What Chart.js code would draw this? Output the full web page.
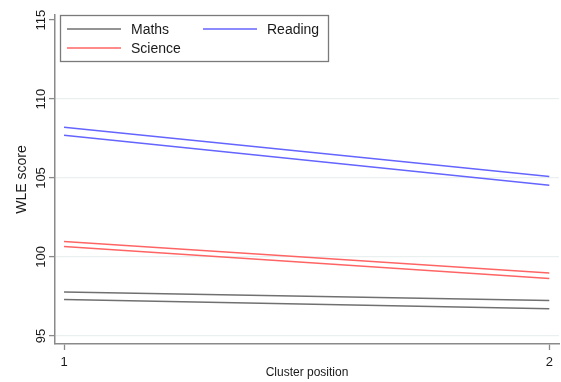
<!DOCTYPE html>
<html>
<head>
<meta charset="utf-8">
<script src="https://cdn.jsdelivr.net/npm/chart.js@4.4.0/dist/chart.umd.min.js"></script>
<style>
  html, body { margin: 0; padding: 0; background: #fff; }
  #wrap { width: 561px; height: 382px; }
</style>
</head>
<body>
<div id="wrap"><canvas id="chart" width="561" height="382"></canvas></div>
<script>
// cluster positions on the x axis
var positions = [1, 2];
// each subject is drawn as an upper and a lower line
var mathsUpper = [97.78, 97.25];
var mathsLower = [97.31, 96.72];
var readingUpper = [108.22, 105.10];
var readingLower = [107.70, 104.54];
var scienceUpper = [100.98, 98.99];
var scienceLower = [100.66, 98.63];
var yTicks = [95, 100, 105, 110, 115];
var xTicks = [1, 2];

var subjectColors = { Maths: '#707070', Reading: '#6464ff', Science: '#ff6464' };

function points(vals) {
	return positions.map(function (p, i) { return { x: p, y: vals[i] }; });
}

function line(subject, vals) {
	return {
		label: subject,
		data: points(vals),
		borderColor: subjectColors[subject],
		borderWidth: 1.5,
		pointRadius: 0,
		fill: false,
		tension: 0
	};
}

// legend box in the top left of the plot, two columns
var boxLegend = {
	id: 'boxLegend',
	afterDraw: function (chart) {
		var ctx = chart.ctx;
		ctx.save();
		ctx.fillStyle = '#fff';
		ctx.fillRect(60, 15, 268, 46);
		ctx.strokeStyle = '#7a7a7a';
		ctx.lineWidth = 1.3;
		ctx.strokeRect(60.5, 15.5, 268, 46);
		var items = [
			{ name: 'Maths', x: 67, y: 29 },
			{ name: 'Reading', x: 203, y: 29 },
			{ name: 'Science', x: 67, y: 48 }
		];
		ctx.font = '14px Arial, "Liberation Sans", sans-serif';
		ctx.textBaseline = 'middle';
		items.forEach(function (it) {
			ctx.strokeStyle = subjectColors[it.name];
			ctx.lineWidth = 1.5;
			ctx.beginPath();
			ctx.moveTo(it.x, it.y);
			ctx.lineTo(it.x + 54, it.y);
			ctx.stroke();
			ctx.fillStyle = '#1a1a1a';
			ctx.fillText(it.name, it.x + 64, it.y + 1);
		});
		ctx.restore();
	}
};

var config = {
	type: 'line',
	data: {
		datasets: [
			line('Maths', mathsUpper),
			line('Maths', mathsLower),
			line('Reading', readingUpper),
			line('Reading', readingLower),
			line('Science', scienceUpper),
			line('Science', scienceLower)
		]
	},
	options: {
		responsive: false,
		animation: false,
		layout: { padding: { top: 15, right: 2, left: 0, bottom: 0 } },
		plugins: {
			legend: { display: false },
			tooltip: { enabled: false }
		},
		scales: {
			x: {
				type: 'linear',
				min: 0.9814,
				max: 2.02,
				afterBuildTicks: function (axis) {
					axis.ticks = xTicks.map(function (v) { return { value: v }; });
				},
				afterFit: function (axis) { axis.height = 38; },
				border: { color: '#8a8a8a', width: 1.5 },
				grid: { drawOnChartArea: false, drawTicks: true, tickLength: 6, tickColor: '#8a8a8a', tickWidth: 1.3 },
				ticks: {
					padding: 5,
					color: '#1a1a1a',
					font: { family: 'Arial, "Liberation Sans", sans-serif', size: 13 },
					maxRotation: 0
				},
				title: {
					display: true,
					text: 'Cluster position',
					color: '#1a1a1a',
					font: { family: 'Arial, "Liberation Sans", sans-serif', size: 12 },
					padding: { top: 0, bottom: 2 }
				}
			},
			y: {
				min: 94.49,
				max: 115.32,
				afterBuildTicks: function (axis) {
					axis.ticks = yTicks.map(function (v) { return { value: v }; });
				},
				afterFit: function (axis) { axis.width = 55; },
				border: { color: '#8a8a8a', width: 1.5 },
				grid: {
					color: function (c) { return c.tick && c.tick.value === 115 ? 'rgba(0,0,0,0)' : '#eaf0f0'; },
					lineWidth: 1.2,
					tickLength: 6,
					tickColor: '#8a8a8a',
					tickWidth: 1.3
				},
				ticks: {
					minRotation: 90,
					maxRotation: 90,
					crossAlign: 'center',
					padding: -3,
					color: '#1a1a1a',
					font: { family: 'Arial, "Liberation Sans", sans-serif', size: 13 }
				},
				title: {
					display: true,
					text: 'WLE score',
					color: '#1a1a1a',
					font: { family: 'Arial, "Liberation Sans", sans-serif', size: 14 },
					padding: { top: 14, bottom: 0 }
				}
			}
		}
	},
	plugins: [boxLegend]
};

window.onload = function () {
	window.myChart = new Chart(document.getElementById('chart'), config);
};
</script>
</body>
</html>
